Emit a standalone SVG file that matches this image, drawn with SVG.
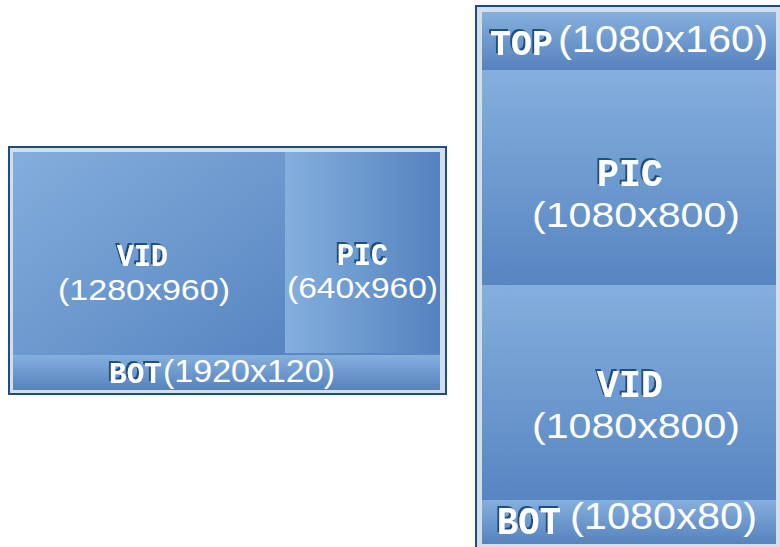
<svg xmlns="http://www.w3.org/2000/svg" width="780" height="547" viewBox="0 0 780 547">
<style>
.frame{fill:#1b4f82}
.mat{fill:#d3dee9}
.lbl{font-family:"Liberation Mono",monospace;font-weight:bold;fill:#ffffff;filter:url(#shadow)}
.num{font-family:"Liberation Sans",sans-serif;fill:#ffffff}
</style>
<defs>
<filter id="shadow" x="-20%" y="-20%" width="140%" height="140%">
<feDropShadow dx="-2" dy="-2" stdDeviation="0" flood-color="#1b4f82" flood-opacity="1"/>
</filter>
<linearGradient id="gDiag" x1="0" y1="0" x2="1" y2="1">
<stop offset="0" stop-color="#83aedc"/><stop offset="1" stop-color="#5785c1"/>
</linearGradient>
<linearGradient id="gHor" x1="0" y1="0" x2="1" y2="0">
<stop offset="0" stop-color="#84afdd"/><stop offset="1" stop-color="#5382bf"/>
</linearGradient>
<linearGradient id="gVert" x1="0" y1="0" x2="0" y2="1">
<stop offset="0" stop-color="#84afdd"/><stop offset="1" stop-color="#5785c1"/>
</linearGradient>
<linearGradient id="gBar" x1="0" y1="0" x2="0" y2="1">
<stop offset="0" stop-color="#85afdd"/><stop offset="1" stop-color="#5682be"/>
</linearGradient>
</defs>

<g id="left-screen">
<rect class="frame" x="8" y="146" width="439" height="249"/>
<rect class="mat" x="10" y="148" width="435" height="245"/>
<rect fill="#5b88c2" x="13" y="152" width="427" height="238"/>
</g>
<g id="left-vid">
<rect fill="url(#gDiag)" x="13" y="152" width="272" height="203"/>
<text class="lbl" x="117" y="266" font-size="31" textLength="51" lengthAdjust="spacingAndGlyphs">VID</text>
<text class="num" x="58" y="300" font-size="30" textLength="172" lengthAdjust="spacingAndGlyphs">(1280x960)</text>
</g>
<g id="left-pic">
<rect fill="url(#gHor)" x="285" y="152" width="155" height="201"/>
<text class="lbl" x="337" y="265" font-size="31" textLength="51" lengthAdjust="spacingAndGlyphs">PIC</text>
<text class="num" x="287" y="298" font-size="29" textLength="151" lengthAdjust="spacingAndGlyphs">(640x960)</text>
</g>
<g id="left-bot">
<rect fill="url(#gBar)" x="13" y="355" width="427" height="35"/>
<text class="lbl" x="109" y="383" font-size="30" textLength="53" lengthAdjust="spacingAndGlyphs">BOT</text>
<text class="num" x="163" y="382" font-size="31" textLength="172" lengthAdjust="spacingAndGlyphs">(1920x120)</text>
</g>

<g id="right-screen">
<rect class="frame" x="475" y="5" width="305" height="542"/>
<rect class="mat" x="477" y="7" width="303" height="540"/>
<rect fill="#5b88c2" x="482" y="12" width="294" height="532"/>
</g>
<g id="right-top">
<rect fill="url(#gBar)" x="482" y="12" width="294" height="58"/>
<text class="lbl" x="490" y="55" font-size="37" textLength="63" lengthAdjust="spacingAndGlyphs">TOP</text>
<text class="num" x="558" y="52" font-size="37" textLength="210" lengthAdjust="spacingAndGlyphs">(1080x160)</text>
</g>
<g id="right-pic">
<rect fill="url(#gVert)" x="482" y="70" width="294" height="215"/>
<text class="lbl" x="597" y="186" font-size="38" textLength="66" lengthAdjust="spacingAndGlyphs">PIC</text>
<text class="num" x="532" y="227" font-size="35" textLength="208" lengthAdjust="spacingAndGlyphs">(1080x800)</text>
</g>
<g id="right-vid">
<rect fill="url(#gVert)" x="482" y="285" width="294" height="215"/>
<text class="lbl" x="597" y="397" font-size="38" textLength="66" lengthAdjust="spacingAndGlyphs">VID</text>
<text class="num" x="532" y="438" font-size="35" textLength="208" lengthAdjust="spacingAndGlyphs">(1080x800)</text>
</g>
<g id="right-bot">
<rect fill="url(#gBar)" x="482" y="500" width="294" height="44"/>
<text class="lbl" x="497" y="534" font-size="38" textLength="64" lengthAdjust="spacingAndGlyphs">BOT</text>
<text class="num" x="570" y="529" font-size="37" textLength="187" lengthAdjust="spacingAndGlyphs">(1080x80)</text>
</g>
</svg>
